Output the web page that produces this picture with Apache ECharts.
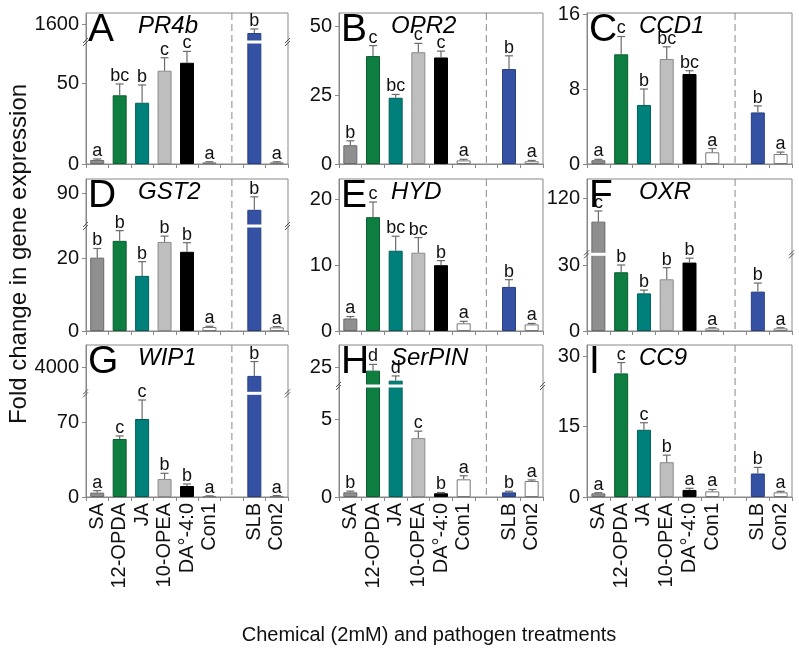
<!DOCTYPE html>
<html>
<head>
<meta charset="utf-8">
<script src="https://cdn.jsdelivr.net/npm/echarts@6/dist/echarts.min.js"></script>
<style>
  html, body { margin: 0; padding: 0; background: #fff; }
  #app { width: 799px; height: 653px; }
</style>
</head>
<body>
<div id="app"></div>
<script>
// treatments (slot 6 is the empty gap with the dashed divider)
var categories = ['SA', '12-OPDA', 'JA', '10-OPEA', 'DA\u00b0-4:0', 'Con1', '', 'SLB', 'Con2'];
var panelLetters = ['A', 'B', 'C', 'D', 'E', 'F', 'G', 'H', 'I'];
var genes = ['PR4b', 'OPR2', 'CCD1', 'GST2', 'HYD', 'OXR', 'WIP1', 'SerPIN', 'CC9'];

var valA = [2.5, 42.4, 37.8, 57.6, 62.5, 1.0, null, 1500, 1.0];
var errA = [0.6, 7, 11, 8, 7, 0.4, null, 45, 0.4];
var sigA = ['a', 'bc', 'b', 'c', 'c', 'a', '', 'b', 'a'];

var valB = [6.8, 39.1, 24.0, 40.5, 38.6, 1.3, null, 34.4, 1.0];
var errB = [1.6, 3.8, 1.2, 3.2, 2.3, 0.4, null, 4.8, 0.3];
var sigB = ['b', 'c', 'bc', 'c', 'c', 'a', '', 'b', 'a'];

var valC = [0.4, 11.7, 6.3, 11.2, 9.6, 1.25, null, 5.5, 1.07];
var errC = [0.1, 1.9, 1.7, 1.3, 0.35, 0.4, null, 0.7, 0.2];
var sigC = ['a', 'c', 'b', 'bc', 'bc', 'a', '', 'b', 'a'];

var valD = [20.1, 24.7, 15.1, 24.4, 21.7, 1.1, null, 75, 1.0];
var errD = [2.5, 2.8, 3.9, 1.6, 2.5, 0.2, null, 12, 0.2];
var sigD = ['b', 'b', 'b', 'b', 'b', 'a', '', 'b', 'a'];

var valE = [1.9, 17.3, 12.2, 11.9, 10.0, 1.17, null, 6.7, 1.0];
var errE = [0.3, 2.3, 2.2, 2.3, 0.7, 0.3, null, 1.1, 0.15];
var sigE = ['a', 'c', 'bc', 'bc', 'b', 'a', '', 'b', 'a'];

var valF = [107.5, 26.7, 17.1, 23.5, 31.1, 1.2, null, 17.9, 1.2];
var errF = [5.7, 3.3, 1.5, 5.3, 2.0, 0.3, null, 3.9, 0.3];
var sigF = ['c', 'b', 'b', 'b', 'b', 'a', '', 'b', 'a'];

var valG = [4.1, 54.4, 73.1, 16.9, 10.3, 0.8, null, 3680, 1.0];
var errG = [1.9, 2.8, 17.8, 5.3, 1.9, 0.3, null, 560, 0.3];
var sigG = ['a', 'c', 'c', 'b', 'b', 'a', '', 'b', 'a'];

var valH = [0.3, 24.2, 21.45, 3.8, 0.24, 1.14, null, 0.3, 1.03];
var errH = [0.08, 1.7, 1.3, 0.45, 0.05, 0.23, null, 0.07, 0.07];
var sigH = ['b', 'd', 'd', 'c', 'b', 'a', '', 'b', 'a'];

var valI = [0.78, 26.3, 14.3, 7.4, 1.5, 1.2, null, 5.0, 1.0];
var errI = [0.14, 2.3, 1.5, 1.5, 0.35, 0.4, null, 1.3, 0.2];
var sigI = ['a', 'c', 'c', 'b', 'a', 'a', '', 'b', 'a'];

var tickA = [0, 50, 1600], tickB = [0, 25, 50], tickC = [0, 8, 16];
var tickD = [0, 20, 90], tickE = [0, 10, 20], tickF = [0, 30, 120];
var tickG = [0, 70, 4000], tickH = [0, 5, 25], tickI = [0, 15, 30];

var values = [valA, valB, valC, valD, valE, valF, valG, valH, valI];
var errors = [errA, errB, errC, errD, errE, errF, errG, errH, errI];
var sigs = [sigA, sigB, sigC, sigD, sigE, sigF, sigG, sigH, sigI];
var ticks = [tickA, tickB, tickC, tickD, tickE, tickF, tickG, tickH, tickI];

// broken-axis scales: k1 = px per unit below the cut, above the cut axis restarts at vu with k2 px per unit
var scales = [
    { k1: 1.62, cut: 122, vu: 1400, k2: 0.09 },
    { k1: 2.76 },
    { k1: 9.375 },
    { k1: 3.65, cut: 105, vu: 60, k2: 1.08 },
    { k1: 6.58 },
    { k1: 2.2, cut: 76.7, vu: 90, k2: 1.867 },
    { k1: 1.067, cut: 103.7, vu: 3000, k2: 0.0256 },
    { k1: 15.5, cut: 111, vu: 20, k2: 3.66 },
    { k1: 4.7 }
];

var barColors = ['#8f8f8f', '#0d7d40', '#00807b', '#bebebe', '#000000', '#ffffff', '#fff', '#3551a3', '#ffffff'];
var barBorders = ['#6a6a6a', '#0a5e30', '#005e5a', '#8a8a8a', '#000000', '#777777', '#777', '#27407f', '#777777'];

var colLeft = [86, 339, 587], colWidth = [202, 204, 205];
var rowTop = [13, 179, 345], rowHeight = [151, 152, 152];
var FONT = "'Liberation Sans', Arial, sans-serif";

function toDisp(s, v) {
    if (v == null) return null;
    if (!s.cut || v * s.k1 <= s.cut) return v * s.k1;
    return Math.max(s.cut, s.cut + (v - s.vu) * s.k2);
}

function makeRender(p) {
    var s = scales[p];
    return function (params, api) {
        var cs = params.coordSys;
        var i = api.value(0);
        var base = api.coord([i, api.value(1)]);
        var tip = api.coord([i, api.value(2)]);
        var kids = [
            { type: 'line', shape: { x1: base[0], y1: base[1], x2: tip[0], y2: tip[1] }, style: { stroke: '#6b6b6b', lineWidth: 1.2 } },
            { type: 'line', shape: { x1: tip[0] - 4, y1: tip[1], x2: tip[0] + 4, y2: tip[1] }, style: { stroke: '#6b6b6b', lineWidth: 1.2 } },
            { type: 'text', x: tip[0], y: tip[1] + 1, style: { text: sigs[p][i], font: '18px ' + FONT, fill: '#111', align: 'center', verticalAlign: 'bottom' } }
        ];
        if (s.cut && api.value(1) > s.cut) {
            var c = api.coord([i, s.cut]);
            kids.push({ type: 'rect', shape: { x: base[0] - 9, y: c[1] - 1.5, width: 18, height: 3 }, style: { fill: '#fff' } });
        }
        if (params.dataIndex === 0) {
            var dx = api.coord([6, 0])[0];
            kids.push({ type: 'line', shape: { x1: dx, y1: cs.y, x2: dx, y2: cs.y + cs.height }, style: { stroke: '#888', lineWidth: 1, lineDash: [7, 4] } });
            kids.push({ type: 'text', x: cs.x + 2, y: cs.y - 2, style: { text: panelLetters[p], font: '39px ' + FONT, fill: '#000', align: 'left', verticalAlign: 'top' } });
            kids.push({ type: 'text', x: cs.x + 52, y: cs.y + 1, style: { text: genes[p], font: 'italic 24px ' + FONT, fill: '#000', align: 'left', verticalAlign: 'top' } });
            if (s.cut) {
                var cy = api.coord([0, s.cut])[1];
                [cs.x, cs.x + cs.width].forEach(function (ax) {
                    kids.push({ type: 'line', shape: { x1: ax - 3, y1: cy + 1, x2: ax + 2, y2: cy - 4 }, style: { stroke: '#555', lineWidth: 1 } });
                    kids.push({ type: 'line', shape: { x1: ax - 3, y1: cy + 4, x2: ax + 2, y2: cy - 1 }, style: { stroke: '#555', lineWidth: 1 } });
                });
            }
        }
        return { type: 'group', children: kids };
    };
}

var grid = [], xAxis = [], yAxis = [], series = [];
for (var p = 0; p < 9; p++) {
    var r = Math.floor(p / 3), c = p % 3;
    var s = scales[p];
    grid.push({ left: colLeft[c], top: rowTop[r], width: colWidth[c], height: rowHeight[r], show: true, borderColor: '#888', borderWidth: 1, backgroundColor: 'transparent' });
    xAxis.push({
        type: 'category', gridIndex: p, data: categories,
        axisLine: { lineStyle: { color: '#888' } },
        axisTick: { show: true, length: 4, lineStyle: { color: '#888' } },
        axisLabel: { show: r === 2, rotate: 90, interval: 0, margin: 6, fontSize: 20, fontFamily: FONT, color: '#111' }
    });
    var tickDisp = ticks[p].map(function (t) { return toDisp(s, t); });
    yAxis.push({
        type: 'value', gridIndex: p, min: 0, max: rowHeight[r],
        splitLine: { show: false },
        axisLine: { show: true, lineStyle: { color: '#888' } },
        axisTick: { show: true, length: 4, customValues: tickDisp, lineStyle: { color: '#888' } },
        axisLabel: {
            customValues: tickDisp, margin: 7, fontSize: 20, fontFamily: FONT, color: '#111',
            formatter: (function (td, tv) {
                return function (val) {
                    var best = 0;
                    for (var k = 1; k < td.length; k++) if (Math.abs(td[k] - val) < Math.abs(td[best] - val)) best = k;
                    return String(tv[best]);
                };
            })(tickDisp, ticks[p])
        }
    });
    series.push({
        type: 'bar', xAxisIndex: p, yAxisIndex: p, barWidth: 14, silent: true,
        data: values[p].map(function (v, i) {
            if (v == null) return '-';
            return { value: toDisp(s, v), itemStyle: { color: barColors[i], borderColor: barBorders[i], borderWidth: 1 } };
        })
    });
    var cdata = [];
    values[p].forEach(function (v, i) {
        if (v != null) cdata.push([i, toDisp(s, v), toDisp(s, v + errors[p][i])]);
    });
    series.push({
        type: 'custom', xAxisIndex: p, yAxisIndex: p, silent: true, clip: false, z: 5,
        renderItem: makeRender(p), data: cdata
    });
}

var myChart = echarts.init(document.getElementById('app'));
myChart.setOption({
    animation: false,
    backgroundColor: '#fff',
    grid: grid, xAxis: xAxis, yAxis: yAxis, series: series,
    graphic: [
        { type: 'text', x: 19, y: 254, rotation: Math.PI / 2, style: { text: 'Fold change in gene expression', font: '24px ' + FONT, fill: '#111', align: 'center', verticalAlign: 'middle' } },
        { type: 'text', x: 429, y: 635, style: { text: 'Chemical (2mM) and pathogen treatments', font: '20px ' + FONT, fill: '#111', align: 'center', verticalAlign: 'middle' } }
    ]
});
</script>
</body>
</html>
